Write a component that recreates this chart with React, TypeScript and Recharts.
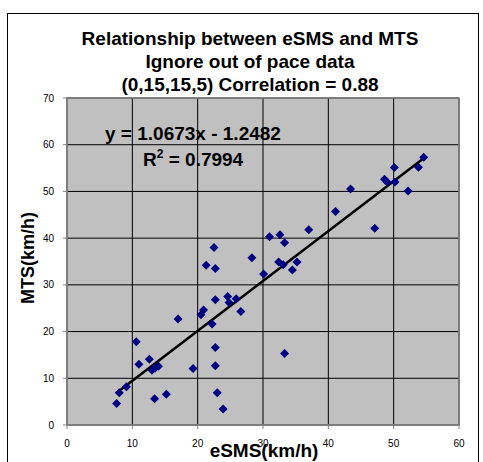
import React from 'react';
import {
  CartesianGrid,
  ComposedChart,
  ReferenceLine,
  Scatter,
  XAxis,
  YAxis,
} from 'recharts';

const ESMS = [
  7.6, 8.0, 9.1, 10.6, 11.0, 12.6, 13.0, 13.5, 14.0, 13.4, 15.2, 17.0, 19.3,
  20.5, 20.9, 21.3, 22.2, 22.5, 22.7, 22.7, 22.7, 22.7, 23.0, 23.9, 24.6, 24.8,
  25.9, 26.6, 28.3, 30.1, 31.0, 32.4, 32.6, 33.1, 33.3, 33.3, 34.5, 35.2, 37.0,
  41.1, 43.4, 47.1, 48.6, 49.0, 50.1, 50.2, 52.2, 53.8, 54.6,
];
const MTS = [
  4.6, 6.9, 8.2, 17.8, 13.0, 14.1, 11.7, 12.2, 12.6, 5.6, 6.6, 22.7, 12.1,
  23.6, 24.6, 34.2, 21.6, 38.0, 33.5, 26.8, 16.6, 12.7, 6.9, 3.4, 27.5, 26.2,
  27.0, 24.3, 35.8, 32.3, 40.3, 34.9, 40.7, 34.3, 39.0, 15.3, 33.2, 34.9, 41.8,
  45.7, 50.5, 42.1, 52.6, 52.0, 55.1, 52.0, 50.1, 55.2, 57.3,
];

// trendline endpoints
const TREND_X = [7.5, 54.9];
const TREND_Y = [6.8, 57.4];

const X_TICKS = [0, 10, 20, 30, 40, 50, 60];
const Y_TICKS = [0, 10, 20, 30, 40, 50, 60, 70];

const TITLE = [
  'Relationship between eSMS and MTS',
  'Ignore out of pace data',
  '(0,15,15,5) Correlation = 0.88',
];

const FONT = '"Liberation Sans", Arial, sans-serif';

const points = ESMS.map((x, i) => ({ x, y: MTS[i] }));

function Diamond(props: any) {
  const { cx, cy } = props;
  const r = 4.5;
  return (
    <polygon
      points={`${cx},${cy - r} ${cx + r},${cy} ${cx},${cy + r} ${cx - r},${cy}`}
      fill="#000080"
    />
  );
}

export default function App() {
  const tick = { fill: '#000', fontSize: 10, fontFamily: FONT };
  return (
    <div
      style={{
        position: 'absolute',
        left: 0,
        top: 0,
        width: 483,
        height: 462,
        background: '#fff',
        overflow: 'hidden',
        fontFamily: FONT,
      }}
    >
      <div
        style={{
          position: 'absolute',
          left: 7,
          top: 13,
          width: 470,
          height: 470,
          border: '1px solid #000',
        }}
      />
      <ComposedChart
        width={483}
        height={462}
        margin={{ top: 98, right: 24, bottom: 7, left: 27 }}
        style={{ position: 'absolute', left: 0, top: 0 }}
      >
        <CartesianGrid stroke="#000" fill="#c0c0c0" fillOpacity={1} />
        <XAxis
          type="number"
          dataKey="x"
          domain={[0, 60]}
          ticks={X_TICKS}
          height={30}
          tick={tick}
          tickSize={4}
          tickMargin={11}
          stroke="#808080"
        />
        <YAxis
          type="number"
          dataKey="y"
          domain={[0, 70]}
          ticks={Y_TICKS}
          width={40}
          tick={tick}
          tickSize={4}
          tickMargin={9}
          stroke="#808080"
        />
        <Scatter data={points} shape={Diamond} isAnimationActive={false} />
        <ReferenceLine
          segment={[
            { x: TREND_X[0], y: TREND_Y[0] },
            { x: TREND_X[1], y: TREND_Y[1] },
          ]}
          stroke="#000"
          strokeWidth={2.5}
        />
      </ComposedChart>
      <svg
        width={483}
        height={462}
        style={{ position: 'absolute', left: 0, top: 0, pointerEvents: 'none' }}
      >
        <rect
          x={67}
          y={98}
          width={392}
          height={327}
          fill="none"
          stroke="#808080"
          strokeWidth={1.5}
        />
        <g fontFamily={FONT} fontWeight="bold" fill="#000">
          {TITLE.map((t, i) => (
            <text key={i} x={250} y={45 + i * 23} fontSize={19} textAnchor="middle">
              {t}
            </text>
          ))}
          <text x={105} y={140} fontSize={19}>
            y = 1.0673x - 1.2482
          </text>
          <text x={143} y={166} fontSize={19}>
            R<tspan fontSize={12} dy={-8}>2</tspan>
            <tspan dy={8}> = 0.7994</tspan>
          </text>
          <text x={264} y={457} fontSize={19} textAnchor="middle">
            eSMS(km/h)
          </text>
          <text
            x={34}
            y={258}
            fontSize={18}
            textAnchor="middle"
            transform="rotate(-90 34 258)"
          >
            <tspan x={34} y={258}>MTS(km/h)</tspan>
          </text>
        </g>
      </svg>
    </div>
  );
}
